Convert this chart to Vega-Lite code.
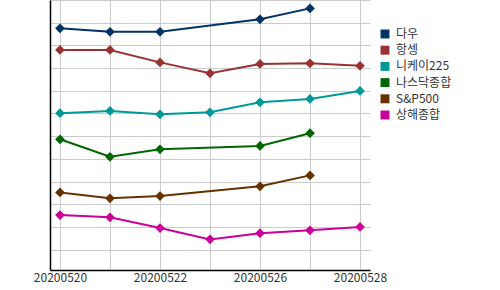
{
  "$schema": "https://vega.github.io/schema/vega-lite/v6.json",
  "autosize": {"type": "none"},
  "padding": {"left": 50, "top": 0, "right": 130, "bottom": 20},
  "width": 320,
  "height": 270,
  "config": {
    "font": "Noto Sans CJK KR",
    "view": {"stroke": null}
  },
  "data": {
    "values": [
      {"date": "20200520", "index": "다우", "v": 10.75},
      {"date": "20200521", "index": "다우", "v": 10.60},
      {"date": "20200522", "index": "다우", "v": 10.60},
      {"date": "20200526", "index": "다우", "v": 11.15},
      {"date": "20200527", "index": "다우", "v": 11.63},
      {"date": "20200520", "index": "항셍", "v": 9.80},
      {"date": "20200521", "index": "항셍", "v": 9.80},
      {"date": "20200522", "index": "항셍", "v": 9.25},
      {"date": "20200525", "index": "항셍", "v": 8.77},
      {"date": "20200526", "index": "항셍", "v": 9.18},
      {"date": "20200527", "index": "항셍", "v": 9.21},
      {"date": "20200528", "index": "항셍", "v": 9.10},
      {"date": "20200520", "index": "니케이225", "v": 7.01},
      {"date": "20200521", "index": "니케이225", "v": 7.11},
      {"date": "20200522", "index": "니케이225", "v": 6.96},
      {"date": "20200525", "index": "니케이225", "v": 7.05},
      {"date": "20200526", "index": "니케이225", "v": 7.49},
      {"date": "20200527", "index": "니케이225", "v": 7.64},
      {"date": "20200528", "index": "니케이225", "v": 7.99},
      {"date": "20200520", "index": "나스닥종합", "v": 5.86},
      {"date": "20200521", "index": "나스닥종합", "v": 5.09},
      {"date": "20200522", "index": "나스닥종합", "v": 5.42},
      {"date": "20200526", "index": "나스닥종합", "v": 5.57},
      {"date": "20200527", "index": "나스닥종합", "v": 6.13},
      {"date": "20200520", "index": "S&P500", "v": 3.52},
      {"date": "20200521", "index": "S&P500", "v": 3.26},
      {"date": "20200522", "index": "S&P500", "v": 3.36},
      {"date": "20200526", "index": "S&P500", "v": 3.79},
      {"date": "20200527", "index": "S&P500", "v": 4.27},
      {"date": "20200520", "index": "상해종합", "v": 2.52},
      {"date": "20200521", "index": "상해종합", "v": 2.42},
      {"date": "20200522", "index": "상해종합", "v": 1.95},
      {"date": "20200525", "index": "상해종합", "v": 1.45},
      {"date": "20200526", "index": "상해종합", "v": 1.72},
      {"date": "20200527", "index": "상해종합", "v": 1.85},
      {"date": "20200528", "index": "상해종합", "v": 2.00}
    ]
  },
  "mark": {"type": "line", "strokeWidth": 2, "point": {"shape": "diamond", "size": 95, "filled": true, "opacity": 1}},
  "encoding": {
    "x": {
      "field": "date",
      "type": "ordinal",
      "scale": {"type": "point", "padding": 0.2, "domain": ["20200520","20200521","20200522","20200525","20200526","20200527","20200528"]},
      "axis": {
        "title": null,
        "labelAngle": 0,
        "labelFontSize": 12,
        "labelColor": "#333333",
        "labelPadding": 2,
        "ticks": false,
        "domainColor": "#000000",
        "domainWidth": 1.5,
        "gridColor": "#cccccc",
        "gridWidth": 1,
        "grid": true,
        "labelExpr": "indexof(['20200520','20200522','20200526','20200528'], datum.value) >= 0 ? datum.value : ''"
      }
    },
    "y": {
      "field": "v",
      "type": "quantitative",
      "scale": {"domain": [0.1, 12], "nice": false, "zero": false},
      "axis": {
        "title": null,
        "labels": false,
        "ticks": false,
        "values": [1,2,3,4,5,6,7,8,9,10,11,12],
        "domainColor": "#000000",
        "domainWidth": 1.5,
        "gridColor": "#cccccc",
        "gridWidth": 1
      }
    },
    "color": {
      "field": "index",
      "type": "nominal",
      "scale": {
        "domain": ["다우", "항셍", "니케이225", "나스닥종합", "S&P500", "상해종합"],
        "range": ["#003366", "#993333", "#009999", "#006600", "#663300", "#CC0099"]
      },
      "legend": {
        "title": null,
        "orient": "none",
        "legendX": 329,
        "legendY": 28,
        "symbolType": "square",
        "symbolSize": 80,
        "symbolStrokeWidth": 0,
        "symbolOpacity": 1,
        "labelFontSize": 12,
        "labelColor": "#333333",
        "rowPadding": 4.2,
        "labelOffset": 5
      }
    }
  }
}
